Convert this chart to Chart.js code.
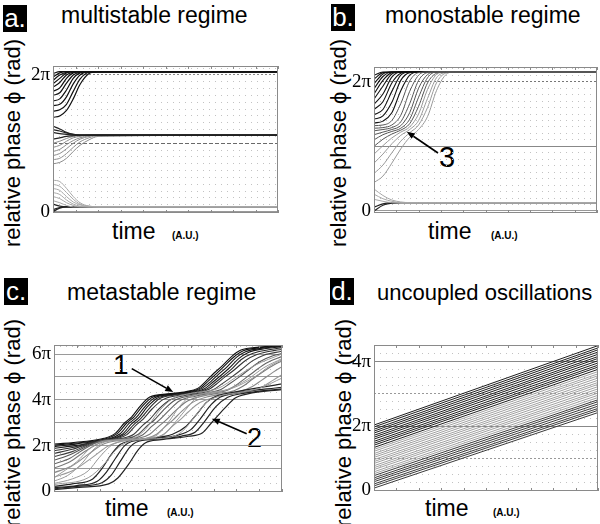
<!DOCTYPE html>
<html><head><meta charset="utf-8">
<script src="https://cdn.jsdelivr.net/npm/chart.js@4.4.0/dist/chart.umd.min.js"></script>
<style>
body{margin:0;width:600px;height:524px;position:relative;background:#fff;overflow:hidden;font-family:'Liberation Sans',Arial,sans-serif;color:#000;}
.t{position:absolute;white-space:nowrap;line-height:1;}
.title{font-size:23px;}
.box{position:absolute;background:#000;color:#fff;font-size:26px;line-height:26px;text-align:center;width:24px;height:27px;}
.ylab{position:absolute;font-size:22px;line-height:22px;white-space:nowrap;transform:translate(-50%,-50%) rotate(-90deg);}
.time{font-size:23px;}
.au{font-size:10px;font-weight:bold;}
.num{font-size:29px;}
canvas{position:absolute;}
</style></head><body>
<div class="box" style="left:3px;top:5px;">a.</div>
<div class="box" style="left:331px;top:4px;">b.</div>
<div class="box" style="left:4px;top:278px;">c.</div>
<div class="box" style="left:330px;top:278px;">d.</div>
<div class="t title" style="left:61px;top:4px;">multistable regime</div>
<div class="t title" style="left:385px;top:4px;">monostable regime</div>
<div class="t title" style="left:67px;top:281px;">metastable regime</div>
<div class="t title" style="left:377px;top:282px;font-size:22px;">uncoupled oscillations</div>
<div class="ylab" style="left:13px;top:143px;">relative phase ϕ (rad)</div>
<div class="ylab" style="left:339px;top:143px;">relative phase ϕ (rad)</div>
<div class="ylab" style="left:13px;top:423px;">relative phase ϕ (rad)</div>
<div class="ylab" style="left:344px;top:423px;">relative phase ϕ (rad)</div>
<div class="t time" style="left:112px;top:220px;">time</div>
<div class="t au" style="left:172px;top:231px;">(A.U.)</div>
<div class="t time" style="left:428px;top:220px;">time</div>
<div class="t au" style="left:491px;top:231px;">(A.U.)</div>
<div class="t time" style="left:105px;top:497px;">time</div>
<div class="t au" style="left:167px;top:508px;">(A.U.)</div>
<div class="t time" style="left:425px;top:497px;">time</div>
<div class="t au" style="left:493px;top:508px;">(A.U.)</div>
<div class="t num" style="left:439px;top:143px;">3</div>
<div class="t num" style="left:113px;top:351px;font-size:28px;">1</div>
<div class="t num" style="left:247px;top:425px;font-size:27px;">2</div>
<script>
// ================= DATA (y in units of π, time in arbitrary units 0..100) =================
// Panel a: multistable regime
const timeA = [0, 3, 6, 9, 12, 16, 20, 100];
const multiUpper = [
  [2.02,2.05,2.05,2.05,2.05,2.05,2.05,2.05],
  [1.97,2.03,2.05,2.05,2.05,2.05,2.05,2.05],
  [1.92,2.00,2.04,2.05,2.05,2.05,2.05,2.05],
  [1.87,1.95,2.03,2.05,2.05,2.05,2.05,2.05],
  [1.82,1.89,2.00,2.04,2.05,2.05,2.05,2.05],
  [1.76,1.81,1.95,2.03,2.05,2.05,2.05,2.05],
  [1.70,1.74,1.88,2.00,2.04,2.05,2.05,2.05],
  [1.62,1.65,1.78,1.95,2.03,2.05,2.05,2.05],
  [1.55,1.57,1.68,1.87,2.00,2.05,2.05,2.05],
  [1.47,1.49,1.57,1.76,1.94,2.04,2.05,2.05],
  [1.38,1.40,1.48,1.65,1.86,2.02,2.05,2.05]
];
const multiMiddle = [
  [1.25,1.21,1.16,1.13,1.12,1.12,1.12,1.12],
  [1.20,1.18,1.15,1.13,1.12,1.12,1.12,1.12],
  [1.16,1.14,1.13,1.12,1.12,1.12,1.12,1.12],
  [1.06,1.08,1.10,1.11,1.12,1.12,1.12,1.12],
  [1.00,1.03,1.07,1.10,1.11,1.12,1.12,1.12],
  [0.94,0.97,1.03,1.08,1.10,1.12,1.12,1.12],
  [0.88,0.91,0.98,1.04,1.08,1.11,1.12,1.12],
  [0.82,0.85,0.92,1.00,1.06,1.10,1.12,1.12],
  [0.76,0.78,0.85,0.94,1.02,1.08,1.11,1.12],
  [0.70,0.72,0.78,0.88,0.97,1.05,1.10,1.12]
];
const multiLower = [
  [0.46,0.44,0.34,0.22,0.13,0.08,0.07,0.07],
  [0.40,0.37,0.28,0.18,0.11,0.08,0.07,0.07],
  [0.34,0.31,0.22,0.14,0.10,0.07,0.07,0.07],
  [0.28,0.25,0.17,0.11,0.08,0.07,0.07,0.07],
  [0.22,0.19,0.13,0.09,0.07,0.07,0.07,0.07],
  [0.16,0.13,0.09,0.07,0.07,0.07,0.07,0.07],
  [0.11,0.08,0.07,0.07,0.07,0.07,0.07,0.07],
  [0.00,0.05,0.07,0.07,0.07,0.07,0.07,0.07],
  [0.03,0.06,0.07,0.07,0.07,0.07,0.07,0.07]
];
const ticksValA = [0, 2];
const ticksTxtA = ['0', '2π'];

// Panel b: monostable regime
const timeB = [0, 4, 8, 12, 16, 20, 24, 28, 32, 36, 100];
const monoRise = [
  [2.10,2.15,2.15,2.15,2.15,2.15,2.15,2.15,2.15,2.15,2.15],
  [2.04,2.14,2.15,2.15,2.15,2.15,2.15,2.15,2.15,2.15,2.15],
  [1.97,2.12,2.15,2.15,2.15,2.15,2.15,2.15,2.15,2.15,2.15],
  [1.89,2.08,2.15,2.15,2.15,2.15,2.15,2.15,2.15,2.15,2.15],
  [1.81,2.02,2.14,2.15,2.15,2.15,2.15,2.15,2.15,2.15,2.15],
  [1.73,1.93,2.12,2.15,2.15,2.15,2.15,2.15,2.15,2.15,2.15],
  [1.65,1.81,2.07,2.15,2.15,2.15,2.15,2.15,2.15,2.15,2.15],
  [1.57,1.69,1.98,2.13,2.15,2.15,2.15,2.15,2.15,2.15,2.15],
  [1.49,1.57,1.85,2.10,2.15,2.15,2.15,2.15,2.15,2.15,2.15],
  [1.42,1.47,1.68,2.02,2.14,2.15,2.15,2.15,2.15,2.15,2.15],
  [1.36,1.39,1.52,1.86,2.10,2.15,2.15,2.15,2.15,2.15,2.15]
];
const monoLate = [
  [1.32,1.33,1.40,1.66,2.01,2.14,2.15,2.15,2.15,2.15,2.15],
  [1.28,1.29,1.33,1.48,1.85,2.10,2.15,2.15,2.15,2.15,2.15],
  [1.24,1.26,1.29,1.38,1.66,2.02,2.14,2.15,2.15,2.15,2.15],
  [1.18,1.22,1.26,1.32,1.52,1.90,2.11,2.15,2.15,2.15,2.15],
  [1.10,1.18,1.23,1.28,1.42,1.76,2.06,2.15,2.15,2.15,2.15],
  [1.00,1.11,1.19,1.25,1.35,1.62,1.98,2.13,2.15,2.15,2.15],
  [0.88,1.01,1.13,1.22,1.30,1.50,1.88,2.11,2.15,2.15,2.15],
  [0.74,0.88,1.04,1.17,1.26,1.40,1.74,2.06,2.14,2.15,2.15],
  [0.58,0.71,0.90,1.08,1.21,1.33,1.60,1.98,2.13,2.15,2.15],
  [0.44,0.54,0.74,0.96,1.14,1.26,1.46,1.86,2.10,2.15,2.15]
];
const monoLow = [
  [0.34,0.24,0.17,0.14,0.13,0.13,0.13,0.13,0.13,0.13,0.13],
  [0.26,0.19,0.15,0.13,0.13,0.13,0.13,0.13,0.13,0.13,0.13],
  [0.18,0.15,0.13,0.13,0.13,0.13,0.13,0.13,0.13,0.13,0.13],
  [0.06,0.11,0.13,0.13,0.13,0.13,0.13,0.13,0.13,0.13,0.13],
  [0.00,0.09,0.12,0.13,0.13,0.13,0.13,0.13,0.13,0.13,0.13]
];
const ticksValB = [0, 2];
const ticksTxtB = ['0', '2π'];

// Panel c: metastable regime, [time, phase] pairs
const metaBundle = [
  [[0,2.07],[12,2.17],[22,2.32],[27,2.55],[31,3.0],[34,3.25],[38,3.75],[42,4.12],[50,4.26],[58,4.36],[63,4.5],[67,4.85],[70,5.15],[74,5.5],[78,5.9],[82,6.17],[90,6.3],[100,6.38]],
  [[0,2.02],[12,2.14],[23,2.31],[28,2.55],[32,3.0],[35,3.25],[39,3.75],[43,4.1],[51,4.25],[59,4.35],[64,4.5],[68,4.85],[71,5.12],[75,5.5],[79,5.88],[83,6.14],[91,6.28],[100,6.36]],
  [[0,1.96],[10,2.08],[24,2.3],[29,2.52],[33,2.98],[36,3.22],[40,3.72],[44,4.08],[52,4.24],[60,4.34],[65,4.5],[69,4.82],[72,5.1],[76,5.45],[80,5.85],[84,6.1],[92,6.26],[100,6.34]],
  [[0,1.88],[9,2.0],[25,2.3],[30,2.5],[34,2.95],[37,3.2],[41,3.7],[45,4.06],[53,4.23],[61,4.34],[66,4.48],[70,4.8],[73,5.05],[77,5.4],[81,5.8],[85,6.06],[93,6.24],[100,6.32]],
  [[0,1.78],[8,1.92],[18,2.18],[26,2.3],[31,2.5],[35,2.92],[38,3.18],[42,3.65],[46,4.04],[54,4.22],[62,4.33],[67,4.47],[71,4.78],[74,5.02],[78,5.35],[82,5.75],[87,6.02],[95,6.2],[100,6.28]],
  [[0,1.66],[8,1.84],[17,2.14],[27,2.29],[32,2.48],[36,2.9],[39,3.15],[43,3.6],[48,4.02],[56,4.21],[63,4.32],[68,4.46],[72,4.75],[75,5.0],[79,5.3],[84,5.72],[89,5.98],[97,6.16],[100,6.2]],
  [[0,1.52],[8,1.74],[16,2.08],[24,2.26],[30,2.32],[35,2.5],[39,2.9],[42,3.15],[46,3.6],[51,4.0],[58,4.2],[65,4.31],[70,4.45],[74,4.72],[78,5.0],[82,5.3],[87,5.7],[92,5.95],[100,6.12]],
  [[0,1.36],[7,1.6],[15,2.0],[22,2.24],[32,2.31],[37,2.5],[41,2.88],[44,3.12],[48,3.55],[53,3.98],[60,4.18],[67,4.3],[73,4.44],[77,4.7],[81,4.98],[85,5.28],[90,5.65],[96,5.92],[100,6.02]],
  [[0,1.2],[7,1.45],[14,1.9],[21,2.2],[34,2.3],[39,2.48],[43,2.85],[46,3.1],[50,3.5],[55,3.95],[62,4.16],[69,4.29],[76,4.42],[80,4.65],[84,4.95],[88,5.25],[93,5.6],[100,5.9]],
  [[0,1.02],[7,1.3],[14,1.78],[21,2.15],[30,2.27],[37,2.32],[42,2.5],[46,2.85],[49,3.1],[53,3.5],[58,3.92],[64,4.14],[71,4.27],[79,4.4],[83,4.6],[87,4.9],[92,5.25],[97,5.55],[100,5.7]],
  [[0,0.82],[8,1.12],[15,1.62],[22,2.08],[32,2.26],[40,2.31],[45,2.5],[49,2.85],[52,3.1],[56,3.5],[61,3.9],[67,4.12],[74,4.26],[82,4.38],[87,4.58],[91,4.85],[96,5.2],[100,5.45]],
  [[0,0.62],[9,0.95],[17,1.5],[24,2.0],[33,2.24],[43,2.3],[48,2.48],[52,2.85],[55,3.1],[59,3.48],[64,3.88],[70,4.1],[78,4.25],[86,4.36],[91,4.55],[96,4.85],[100,5.1]]
];
const metaLagging = [
  [[0,0.08],[11,0.18],[24,0.33],[28,0.59],[32.6,1.17],[37,1.83],[40,2.12],[47,2.26],[59,2.41],[65,2.55],[69,2.99],[75,3.65],[79.5,4.08],[85,4.26],[100,4.45]],
  [[0,0.12],[10,0.22],[21,0.38],[25,0.7],[29,1.3],[33,1.9],[36,2.15],[45,2.28],[56,2.42],[62,2.6],[66,3.05],[71,3.7],[76,4.1],[83,4.28],[100,4.48]],
  [[0,0.16],[10,0.26],[19,0.45],[23,0.85],[27,1.45],[31,2.0],[34,2.18],[43,2.3],[54,2.45],[60,2.7],[64,3.15],[69,3.8],[73,4.12],[80,4.3],[100,4.55]],
  [[0,0.22],[8,0.33],[17,0.55],[21,1.0],[25,1.6],[29,2.05],[33,2.2],[42,2.32],[52,2.5],[58,2.85],[62,3.3],[67,3.9],[71,4.15],[78,4.32],[100,4.7]]
];
const metaStray = [
  [[0,0.35],[8,0.55],[15,0.9],[20,1.5],[25,2.0],[30,2.2],[40,2.3],[48,2.5],[53,3.0],[58,3.6],[62,4.05],[68,4.25],[76,4.45],[85,4.9],[92,5.4],[100,5.8]],
  [[0,0.45],[6,0.7],[12,1.2],[17,1.8],[22,2.15],[30,2.25],[44,2.4],[50,3.0],[55,3.7],[59,4.1],[66,4.28],[78,4.5],[88,5.0],[95,5.5],[100,5.75]],
  [[0,0.6],[10,1.3],[16,1.9],[22,2.2],[34,2.3],[40,2.7],[46,3.5],[52,4.05],[60,4.28],[72,4.5],[80,5.0],[88,5.5],[100,6.0]],
  [[0,0.3],[15,0.6],[22,1.2],[27,1.8],[32,2.15],[40,2.28],[50,2.35],[56,2.6],[62,3.3],[67,3.9],[72,4.15],[80,4.3],[90,4.5],[100,4.95]]
];
const ticksValC = [0, 2, 4, 6];
const ticksTxtC = ['0', '2π', '4π', '6π'];

// Panel d: uncoupled oscillations (phase at start and at end of run)
const freeStart = [2.03,1.97,1.90,1.84,1.78,1.71,1.65,1.59,1.52,1.46,1.40,1.33,1.27,1.21,1.14,1.08,
                   1.02,0.95,0.89,0.83,0.76,0.70,0.64,0.57,0.51,0.45,0.38,0.32,0.26,0.19,0.13,0.06];
const freeEnd   = [4.51,4.44,4.38,4.31,4.24,4.17,4.11,4.04,3.97,3.90,3.84,3.77,3.70,3.63,3.57,3.50,
                   3.43,3.36,3.30,3.23,3.16,3.09,3.03,2.96,2.89,2.82,2.76,2.69,2.62,2.55,2.49,2.42];
const ticksValD = [0, 2, 4];
const ticksTxtD = ['0', '2π', '4π'];

// ================= RENDERING =================
Chart.defaults.font.family = "'Liberation Sans', Arial, sans-serif";

function fromTimes(times, vals){ return vals.map((v,i)=>({x:times[i], y:v})); }
function fromPairs(pairs){ return pairs.map(p=>({x:p[0], y:p[1]})); }
function line(data, color, width){
  return {data, borderColor:color, borderWidth:width||1, pointRadius:0, fill:false};
}

function framePlugin(arrows){
  return {
    id:'frame',
    afterDatasetsDraw(chart){
      const {ctx, chartArea:a, scales} = chart;
      ctx.save();
      ctx.strokeStyle = '#8a8a8a'; ctx.lineWidth = 1;
      ctx.strokeRect(Math.round(a.left)+0.5, Math.round(a.top)+0.5, Math.round(a.right-a.left)-1, Math.round(a.bottom-a.top)-1);
      ctx.beginPath();
      scales.x.ticks.forEach(t=>{
        const px = Math.round(scales.x.getPixelForValue(t.value))+0.5;
        ctx.moveTo(px, a.top); ctx.lineTo(px, a.top+3);
        ctx.moveTo(px, a.bottom); ctx.lineTo(px, a.bottom-3);
      });
      ctx.stroke();
      ctx.strokeStyle = '#000'; ctx.fillStyle = '#000'; ctx.lineWidth = 1.6;
      arrows.forEach(ar=>{
        const x1 = scales.x.getPixelForValue(ar.from[0]), y1 = scales.y.getPixelForValue(ar.from[1]);
        const x2 = scales.x.getPixelForValue(ar.to[0]),   y2 = scales.y.getPixelForValue(ar.to[1]);
        const ang = Math.atan2(y2-y1, x2-x1), L = 8, W = 3.2;
        const bx = x2 - L*Math.cos(ang), by = y2 - L*Math.sin(ang);
        ctx.beginPath(); ctx.moveTo(x1,y1); ctx.lineTo(bx,by); ctx.stroke();
        ctx.beginPath();
        ctx.moveTo(x2,y2);
        ctx.lineTo(bx + W*Math.sin(ang), by - W*Math.cos(ang));
        ctx.lineTo(bx - W*Math.sin(ang), by + W*Math.cos(ang));
        ctx.closePath(); ctx.fill();
      });
      ctx.restore();
    }
  };
}

function makePanel(cfg){
  const cv = document.createElement('canvas');
  cv.width = cfg.w; cv.height = cfg.h;
  cv.style.left = cfg.left+'px'; cv.style.top = cfg.top+'px';
  cv.style.width = cfg.w+'px'; cv.style.height = cfg.h+'px';
  document.body.appendChild(cv);
  const near = (a,b)=>Math.abs(a-b)<1e-6;
  const isInt = v => near(v, Math.round(v));
  const gstyle = v => isInt(v) ? cfg.major(Math.round(v)) : {color:'#c2c2c2', dash:[1,5], width:1};
  return new Chart(cv.getContext('2d'), {
    type:'line',
    data:{datasets:cfg.datasets},
    options:{
      responsive:false, animation:false, devicePixelRatio:1,
      layout:{padding:{top:cfg.pt, right:cfg.pr, left:0, bottom:0}},
      plugins:{legend:{display:false}, tooltip:{enabled:false}},
      elements:{point:{radius:0}, line:{borderWidth:1, tension:0.4, cubicInterpolationMode:'monotone'}},
      scales:{
        x:{type:'linear', min:0, max:100,
           ticks:{display:false, stepSize:10},
           grid:{display:false}, border:{display:false},
           afterFit:s=>{s.height = cfg.xh; s.paddingLeft=0; s.paddingRight=0; s.paddingTop=0; s.paddingBottom=0;}},
        y:{type:'linear', min:cfg.ymin, max:cfg.ymax,
           afterBuildTicks:s=>{
             const t=[];
             for(let k=Math.ceil(cfg.ymin*cfg.sub); k<=Math.floor(cfg.ymax*cfg.sub); k++) t.push({value:k/cfg.sub});
             s.ticks = t;
           },
           ticks:{autoSkip:false, padding:3, color:'#000',
                  font:{family:"'Liberation Serif', 'Times New Roman', serif", size:19},
                  callback:(v)=>{ const i = cfg.tickVals.findIndex(tv=>near(tv,v)); return i>=0 ? cfg.tickTxt[i] : ''; }},
           grid:{drawTicks:false,
                 color:ctx=>ctx.tick ? gstyle(ctx.tick.value).color : '#999',
                 lineWidth:ctx=>ctx.tick ? gstyle(ctx.tick.value).width : 1},
           border:{display:false, dash:ctx=>ctx.tick ? gstyle(ctx.tick.value).dash : []},
           afterFit:s=>{s.width = cfg.yw; s.paddingTop=0; s.paddingBottom=0; s.paddingLeft=0; s.paddingRight=0;}}
      }
    },
    plugins:[framePlugin(cfg.arrows||[])]
  });
}

// ---- panel a ----
const dsA = [];
multiLower.forEach((v,i)=>dsA.push(line(fromTimes(timeA,v), i<6?'#a8a8a8':'#222', i<6?1:1.2)));
multiMiddle.forEach((v,i)=>dsA.push(line(fromTimes(timeA,v), i<4?'#222':'#8c8c8c', i<4?1.2:1)));
multiUpper.forEach((v,i)=>dsA.push(line(fromTimes(timeA,v), '#111', 1.2)));
makePanel({left:20, top:56, w:265, h:165, yw:33, pt:10, pr:7, xh:8,
  ymin:-0.0205, ymax:2.131, sub:10, tickVals:ticksValA, tickTxt:ticksTxtA,
  major:v=> v===0 ? {color:'#999',dash:[],width:1} : v===1 ? {color:'#6a6a6a',dash:[4,2],width:1} : {color:'#8a8a8a',dash:[2,2],width:1},
  datasets:dsA});

// ---- panel b ----
const dsB = [];
monoLow.forEach((v,i)=>dsB.push(line(fromTimes(timeB,v), i<3?'#a8a8a8':'#222', i<3?1:1.2)));
monoLate.forEach((v,i)=>dsB.push(line(fromTimes(timeB,v), i<6?'#555':'#999', 1)));
monoRise.forEach((v,i)=>dsB.push(line(fromTimes(timeB,v), '#111', 1.1)));
makePanel({left:340, top:57, w:262, h:164, yw:34, pt:10, pr:5, xh:8,
  ymin:-0.031, ymax:2.227, sub:10, tickVals:ticksValB, tickTxt:ticksTxtB,
  major:v=> v===0 ? {color:'#999',dash:[],width:1} : v===1 ? {color:'#888',dash:[],width:1} : {color:'#777',dash:[2,2],width:1},
  arrows:[{from:[28.7,0.897], to:[14.7,1.226]}],
  datasets:dsB});

// ---- panel c ----
const dsC = [];
metaStray.forEach(p=>dsC.push(line(fromPairs(p), '#9a9a9a', 1)));
metaLagging.forEach(p=>dsC.push(line(fromPairs(p), '#222', 1.2)));
const bundleCols = ['#111','#111','#151515','#1a1a1a','#2a2a2a','#333','#3d3d3d','#555','#666','#7a7a7a','#8a8a8a','#999'];
metaBundle.slice().reverse().forEach((p,i)=>dsC.push(line(fromPairs(p), bundleCols[metaBundle.length-1-i], 1.1)));
makePanel({left:20, top:335, w:268, h:165, yw:34, pt:10, pr:6, xh:8,
  ymin:-0.022, ymax:6.393, sub:3, tickVals:ticksValC, tickTxt:ticksTxtC,
  major:v=> ({color:'#9a9a9a',dash:[],width:1}),
  arrows:[{from:[34.1,5.36], to:[52.3,4.34]}, {from:[84.5,2.52], to:[69.2,3.18]}],
  datasets:dsC});

// ---- panel d ----
const dsD = freeStart.map((s,i)=>{
  const d = line([{x:0,y:s},{x:100,y:freeEnd[i]}], i<12?'#1e1e1e':(i<25?'#a0a0a0':'#3a3a3a'), 1);
  d.tension = 0; d.cubicInterpolationMode = 'default';
  return d;
});
makePanel({left:340, top:335, w:262, h:165, yw:34, pt:10, pr:4, xh:9,
  ymin:-0.03, ymax:4.53, sub:4, tickVals:ticksValD, tickTxt:ticksTxtD,
  major:v=> (v===2||v===4) ? {color:'#888',dash:[],width:1} : v===0 ? {color:'#999',dash:[],width:1} : {color:'#999',dash:[2,2],width:1},
  datasets:dsD});
</script>
</body></html>
